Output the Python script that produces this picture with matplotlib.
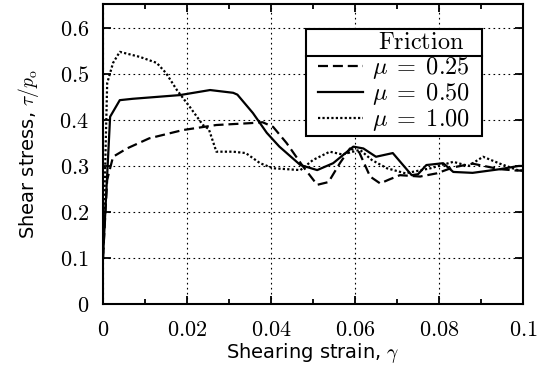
import numpy as np
import matplotlib.pyplot as plt
from matplotlib.lines import Line2D
from matplotlib.patches import Rectangle
from matplotlib.ticker import MultipleLocator, FuncFormatter

plt.rcParams['mathtext.fontset'] = 'cm'
plt.rcParams['font.family'] = 'DejaVu Sans'

# Datos
strain_025 = [0.0, 0.001, 0.0024, 0.0057, 0.011, 0.019, 0.027, 0.035, 0.038, 0.0405, 0.0437,
              0.0477, 0.051, 0.0537, 0.0564, 0.0588, 0.061, 0.0636, 0.066, 0.068, 0.0707,
              0.0755, 0.0795, 0.0834, 0.088, 0.0945, 0.0985, 0.1]
stress_025 = [0.1, 0.27, 0.32, 0.338, 0.36, 0.378, 0.389, 0.393, 0.395, 0.385, 0.35,
              0.298, 0.259, 0.265, 0.306, 0.338, 0.33, 0.277, 0.262, 0.27, 0.28,
              0.277, 0.284, 0.297, 0.305, 0.293, 0.29, 0.29]

strain_050 = [0.0, 0.0017, 0.004, 0.0071, 0.0183, 0.0255, 0.031, 0.032, 0.0357, 0.039, 0.042,
              0.047, 0.051, 0.0548, 0.0596, 0.062, 0.065, 0.069, 0.0735, 0.075, 0.077,
              0.081, 0.0834, 0.088, 0.0945, 0.099, 0.1]
stress_050 = [0.1, 0.407, 0.443, 0.446, 0.454, 0.465, 0.459, 0.455, 0.415, 0.372, 0.342,
              0.302, 0.291, 0.306, 0.342, 0.338, 0.32, 0.328, 0.28, 0.282, 0.302,
              0.306, 0.287, 0.285, 0.293, 0.3, 0.3]

strain_100 = [0.0, 0.001, 0.0024, 0.004, 0.0088, 0.0128, 0.015, 0.0176, 0.0207, 0.0238, 0.0252,
              0.027, 0.031, 0.034, 0.0374, 0.0405, 0.047, 0.05, 0.054, 0.057, 0.0612,
              0.064, 0.0676, 0.072, 0.078, 0.0834, 0.087, 0.0905, 0.0945, 0.099, 0.1]
stress_100 = [0.1, 0.48, 0.524, 0.548, 0.537, 0.524, 0.502, 0.465, 0.428, 0.389, 0.38,
              0.331, 0.331, 0.328, 0.306, 0.295, 0.291, 0.313, 0.331, 0.325, 0.335,
              0.313, 0.295, 0.284, 0.295, 0.309, 0.3, 0.32, 0.305, 0.29, 0.29]

labels = [r'$\mu\;=\;0.25$', r'$\mu\;=\;0.50$', r'$\mu\;=\;1.00$']
titulo = r'$\mathrm{Friction}$'

fig = plt.figure(figsize=(5.4, 3.74), dpi=100)
ax = fig.add_axes([0.1907, 0.1872, 0.7778, 0.8021])

ax.plot(strain_025, stress_025, color='black', lw=1.6, ls=(0, (4.5, 2.2)), label=labels[0])
ax.plot(strain_050, stress_050, color='black', lw=1.6, ls='-', label=labels[1])
ax.plot(strain_100, stress_100, color='black', lw=1.6, ls=(0, (1, 1)), label=labels[2])

ax.set_xlim(0, 0.1)
ax.set_ylim(0, 0.652)
ax.xaxis.set_major_locator(MultipleLocator(0.02))
ax.xaxis.set_minor_locator(MultipleLocator(0.01))
ax.yaxis.set_major_locator(MultipleLocator(0.1))

def fmt(v, pos):
    s = '%g' % round(v, 4)
    return '$' + s + '$'

ax.xaxis.set_major_formatter(FuncFormatter(fmt))
ax.yaxis.set_major_formatter(FuncFormatter(fmt))
ax.tick_params(which='both', direction='in', top=True, right=True, labelsize=16, width=1.3)
ax.tick_params(which='major', length=6)
ax.tick_params(axis='x', which='major', pad=11.5)
ax.tick_params(axis='y', which='major', pad=10)
ax.tick_params(which='minor', length=3.5)
for s in ax.spines.values():
    s.set_linewidth(1.5)

ax.grid(True, which='major', color='black', ls=(0, (1.5, 3)), lw=0.8)

ax.set_xlabel(r'Shearing strain, $\gamma$', fontsize=14, labelpad=1)
ax.set_ylabel(r'Shear stress, $\tau/p_\mathrm{o}$', fontsize=14, labelpad=13)

# el titulo vacio solo reserva el hueco; el texto se pone despues centrado
leg = ax.legend(title=' ', loc='upper right', bbox_to_anchor=(0.881, 0.917),
                fontsize=17.5, title_fontsize=17, frameon=False,
                handlelength=1.85, borderpad=0.1, labelspacing=0.0,
                handletextpad=0.4, borderaxespad=0)

# marco de la leyenda, separador y titulo centrado sobre los textos
fig.canvas.draw()
r = fig.canvas.get_renderer()
lb = leg.get_window_extent(r)
tb = leg.get_title().get_window_extent(r)
tx = [t.get_window_extent(r) for t in leg.get_texts()]
dx = 9
inv = ax.transAxes.inverted()
(bx0, by0) = inv.transform((lb.x0 - dx, lb.y0))
(bx1, by1) = inv.transform((lb.x1 + dx, lb.y1))
ax.add_patch(Rectangle((bx0, by0), bx1 - bx0, by1 - by0, transform=ax.transAxes,
                       facecolor='white', edgecolor='black', lw=1.5, zorder=4.5, clip_on=False))
(_, ysep) = inv.transform((0, tb.y0 - 1))
ax.add_line(Line2D([bx0, bx1], [ysep, ysep], color='black', lw=1.5, transform=ax.transAxes,
                   zorder=6, clip_on=False))
xc = (min(t.x0 for t in tx) + max(t.x1 for t in tx)) / 2
(xt, yt) = inv.transform((xc, (tb.y0 + lb.y1) / 2))
ax.text(xt, yt, titulo, transform=ax.transAxes, ha='center', va='center',
        fontsize=17.5, zorder=6)

plt.savefig('out.png', dpi=100)
